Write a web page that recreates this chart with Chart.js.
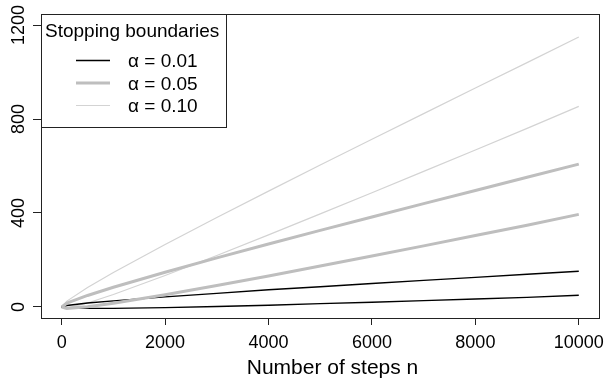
<!DOCTYPE html>
<html>
<head>
<meta charset="utf-8">
<title>Stopping boundaries</title>
<script src="https://cdn.jsdelivr.net/npm/chart.js"></script>
<style>
  body { margin: 0; background: #fff; }
  canvas { display: block; }
</style>
</head>
<body>
<canvas id="chart" width="611" height="379"></canvas>
<script>
const steps = [0, 100, 500, 1000, 2000, 3000, 4000, 5000, 6000, 7000, 8000, 9000, 10000];

// alpha = 0.01 (black)
const upper01 = [0, 6, 17, 26, 43, 58, 73, 86, 100, 113, 126, 139, 152];
const lower01 = [0, -4, -6, -6, -3, 2, 7, 14, 20, 27, 34, 41, 50];
// alpha = 0.05 (gray)
const upper05 = [0, 16, 49, 84, 148, 209, 268, 326, 383, 440, 496, 552, 608];
const lower05 = [0, -6, 1, 16, 52, 91, 132, 174, 217, 260, 304, 348, 394];
// alpha = 0.10 (light gray)
const upper10 = [0, 25, 83, 147, 266, 381, 493, 604, 714, 823, 932, 1040, 1149];
const lower10 = [0, -5, 17, 53, 134, 219, 307, 396, 486, 577, 668, 760, 854];

const legendTitle = 'Stopping boundaries';
const legendLabels = ['α = 0.01', 'α = 0.05', 'α = 0.10'];
const xTitle = 'Number of steps n';
const xTicks = [0, 2000, 4000, 6000, 8000, 10000];
const yTicks = [0, 400, 800, 1200];

const FONT = '"Liberation Sans", Arial, sans-serif';
const styles = [
    { color: '#000000', width: 1.4, order: 2 },
    { color: '#bebebe', width: 3, order: 1 },
    { color: '#d3d3d3', width: 1.2, order: 3 }
];

function pts(arr) {
    return steps.map((n, i) => ({ x: n, y: arr[i] }));
}

const series = [[upper01, lower01], [upper05, lower05], [upper10, lower10]];
const datasets = [];
series.forEach((pair, k) => {
    pair.forEach((arr, j) => {
        datasets.push({
            label: legendLabels[k] + (j ? ' lower' : ' upper'),
            data: pts(arr),
            borderColor: styles[k].color,
            borderWidth: styles[k].width,
            order: styles[k].order,
            pointRadius: 0,
            tension: 0,
            fill: false
        });
    });
});

// R style box, rotated y labels, axis title and legend
const rStyle = {
    id: 'rStyle',
    afterDraw(chart) {
        const ctx = chart.ctx;
        const a = chart.chartArea;
        const ys = chart.scales.y;
        ctx.save();
        ctx.strokeStyle = '#222';
        ctx.lineWidth = 1;
        ctx.strokeRect(Math.round(a.left) + 0.5, Math.round(a.top) + 0.5,
            Math.round(a.right - a.left), Math.round(a.bottom - a.top));

        // y tick labels, reading upwards
        ctx.fillStyle = '#000';
        ctx.font = '18px ' + FONT;
        ctx.textAlign = 'center';
        ctx.textBaseline = 'alphabetic';
        yTicks.forEach(v => {
            ctx.save();
            ctx.translate(24, ys.getPixelForValue(v));
            ctx.rotate(-Math.PI / 2);
            ctx.fillText(String(v), 0, 0);
            ctx.restore();
        });

        // x axis title
        ctx.font = '21px ' + FONT;
        ctx.fillText(xTitle, 332.5, 373.5);

        // legend box in the top left corner
        const lx = Math.round(a.left) + 0.5, ly = Math.round(a.top) + 0.5;
        ctx.fillStyle = '#fff';
        ctx.fillRect(lx, ly, 185, 113);
        ctx.strokeRect(lx, ly, 185, 113);
        ctx.fillStyle = '#000';
        ctx.font = '19px ' + FONT;
        ctx.textAlign = 'left';
        ctx.fillText(legendTitle, 45, 37);
        const rowY = [60.5, 83, 105.5];
        legendLabels.forEach((t, k) => {
            ctx.strokeStyle = styles[k].color;
            ctx.lineWidth = styles[k].width;
            ctx.beginPath();
            ctx.moveTo(76, rowY[k]);
            ctx.lineTo(110, rowY[k]);
            ctx.stroke();
            ctx.fillText(t, 128, rowY[k] + 6.8);
        });
        ctx.restore();
    }
};

new Chart(document.getElementById('chart'), {
    type: 'line',
    data: { datasets },
    options: {
        responsive: false,
        animation: false,
        layout: { padding: { top: 14, right: 5, left: 0, bottom: 0 } },
        plugins: { legend: { display: false }, tooltip: { enabled: false } },
        scales: {
            x: {
                type: 'linear',
                min: -400,
                max: 10400,
                afterBuildTicks: s => { s.ticks = xTicks.map(v => ({ value: v })); },
                afterFit: s => { s.height = 61; },
                grid: { drawOnChartArea: false, drawTicks: true, tickLength: 7, color: '#222' },
                border: { display: false },
                ticks: {
                    color: '#000',
                    padding: 7,
                    maxRotation: 0,
                    font: { family: FONT, size: 18 },
                    callback: v => String(v)
                }
            },
            y: {
                type: 'linear',
                min: -47,
                max: 1247,
                afterBuildTicks: s => { s.ticks = yTicks.map(v => ({ value: v })); },
                afterFit: s => { s.width = 41; },
                grid: { drawOnChartArea: false, drawTicks: true, tickLength: 8, color: '#222' },
                border: { display: false },
                ticks: { display: false }
            }
        }
    },
    plugins: [rStyle]
});
</script>
</body>
</html>
